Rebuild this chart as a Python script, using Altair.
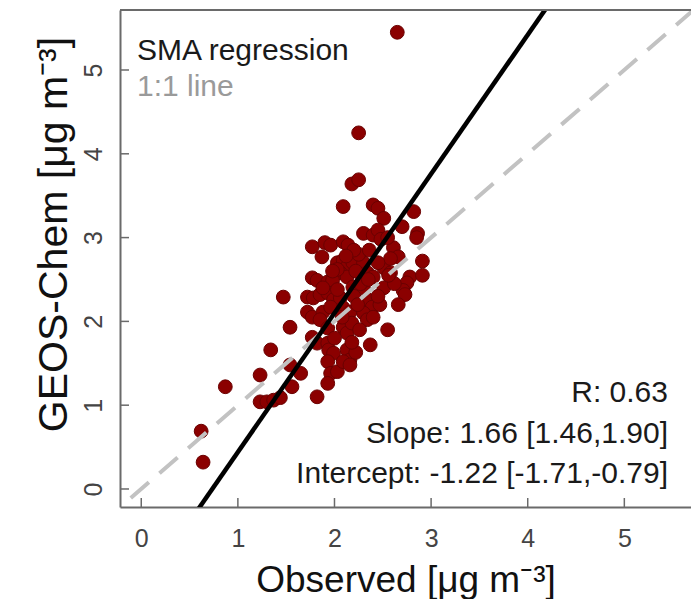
import altair as alt
import pandas as pd

# ---- data ----
observed = [2.65, 2.25, 2.18, 2.25, 2.09, 2.40, 2.45, 2.51, 2.82, 2.70, 2.86, 2.85,
            2.30, 2.40, 2.45, 1.77, 1.90, 1.96, 2.09, 2.14, 1.87, 2.61, 2.66, 2.91,
            2.03, 2.09, 2.13, 2.19, 2.30, 2.06, 2.13, 2.34, 2.40, 2.51, 2.58, 2.78,
            2.91, 1.77, 1.82, 1.93, 1.98, 2.75, 2.71, 2.73, 1.47, 1.72, 1.78, 1.85,
            1.93, 1.99, 2.06, 2.19, 2.29, 2.30, 2.51, 2.66, 1.72, 1.77, 1.88, 1.96,
            2.09, 2.16, 2.34, 2.39, 2.47, 1.54, 1.85, 1.93, 2.09, 2.13, 2.18, 2.30,
            2.34, 2.40, 2.55, 1.34, 1.77, 1.82, 1.93, 1.94, 1.99, 2.13, 2.16, 2.22,
            2.37, 1.23, 0.87, 1.54, 1.65, 1.93, 1.96, 2.03, 2.09, 2.16, 1.93, 1.82,
            1.56, 1.23, 1.30, 1.37, 1.44, 0.64, 0.62,
            2.03, 2.22, 2.25, 2.20, 2.27, 2.03, 2.20, 2.24, 1.98, 2.36, 2.48, 2.55,
            2.58, 2.45, 2.62, 2.08, 2.26, 2.00, 2.45, 1.88, 2.18, 2.35, 2.12, 2.56]
geos_chem = [5.45, 4.25, 3.64, 3.69, 3.37, 3.39, 3.35, 3.23, 3.31, 3.13, 3.05, 3.00,
             3.05, 3.03, 3.09, 2.89, 2.94, 2.91, 2.95, 2.91, 2.77, 2.88, 2.77, 2.72,
             2.70, 2.73, 2.65, 2.70, 2.70, 2.58, 2.53, 2.58, 2.53, 2.64, 2.58, 2.53,
             2.55, 2.52, 2.49, 2.47, 2.49, 2.46, 2.37, 2.32, 2.29, 2.29, 2.28, 2.32,
             2.34, 2.26, 2.28, 2.41, 2.49, 2.40, 2.40, 2.20, 2.11, 2.05, 2.11, 2.17,
             2.16, 2.11, 2.26, 2.17, 2.20, 1.93, 2.02, 1.92, 1.93, 1.86, 1.98, 2.10,
             2.02, 2.05, 1.90, 1.66, 1.81, 1.74, 1.74, 1.66, 1.62, 1.66, 1.54, 1.63,
             1.72, 1.36, 1.22, 1.48, 1.38, 1.52, 1.38, 1.40, 1.52, 1.48, 1.26, 1.10,
             1.22, 1.04, 1.04, 1.06, 1.09, 0.32, 0.69,
             2.62, 2.60, 2.80, 2.85, 2.45, 2.38, 2.30, 2.20, 2.60, 2.85, 2.98, 3.00,
             2.75, 2.70, 2.45, 2.05, 1.90, 1.80, 2.30, 2.40, 1.75, 2.50, 2.78, 2.55]
tick_values = [0, 1, 2, 3, 4, 5]
sma_slope = 1.66
sma_intercept = -1.22
legend_labels = ["SMA regression", "1:1 line"]
stats_labels = ["R: 0.63", "Slope: 1.66 [1.46,1.90]", "Intercept: -1.22 [-1.71,-0.79]"]
x_title = "Observed [μg m⁻³]"
y_title = "GEOS-Chem [μg m⁻³]"

# ---- layout ----
W, H = 571, 497
XDOM = [-0.22, 5.69]
YDOM = [-0.215, 5.716]
FONT = "Liberation Sans, Arial, sans-serif"

xs = alt.Scale(domain=XDOM, nice=False, zero=False)
ys = alt.Scale(domain=YDOM, nice=False, zero=False)

pts = pd.DataFrame({"obs": observed, "gc": geos_chem})

line_x = [-1.0, 7.0]
one_df = pd.DataFrame({"obs": line_x, "gc": line_x})
sma_df = pd.DataFrame({"obs": line_x, "gc": [sma_slope * v + sma_intercept for v in line_x]})
ticks_df = pd.DataFrame({"obs": tick_values, "gc": tick_values})

x_axis = alt.Axis(
    values=tick_values, format="d", title=x_title, grid=False,
    ticks=False, tickSize=0, domainColor="#6a6a6a", domainWidth=2,
    labelFont=FONT, labelFontSize=25, labelColor="#444444", labelPadding=31,
    labelBaseline="middle", labelFlush=False, labelOverlap=False,
    titleFont=FONT, titleFontSize=37, titleFontWeight="normal", titleColor="#111111",
    titleY=84, titleBaseline="alphabetic",
)
y_axis = alt.Axis(
    values=tick_values, format="d", title=y_title, grid=False,
    ticks=False, tickSize=0, domainColor="#6a6a6a", domainWidth=2,
    labelFont=FONT, labelFontSize=25, labelColor="#444444", labelPadding=27,
    labelAngle=-90, labelAlign="center", labelBaseline="middle",
    labelFlush=False, labelOverlap=False,
    titleFont=FONT, titleFontSize=41, titleFontWeight="normal", titleColor="#111111",
    titleAngle=270, titleX=-54, titleY=224, titleBaseline="alphabetic", titleAlign="center",
)

X = alt.X("obs:Q", scale=xs, axis=x_axis)
Y = alt.Y("gc:Q", scale=ys, axis=y_axis)

points = alt.Chart(pts).mark_circle(
    size=190, color="#8B0000", opacity=1, stroke="#6a0000", strokeWidth=1
).encode(x=X, y=Y)

one_line = alt.Chart(one_df).mark_line(
    clip=True, color="#c2c2c2", strokeWidth=4, strokeDash=[24, 14]
).encode(x=X, y=Y)

sma_line = alt.Chart(sma_df).mark_line(
    clip=True, color="#000000", strokeWidth=4.5
).encode(x=X, y=Y)

x_ticks = alt.Chart(ticks_df).mark_rule(color="#6a6a6a", strokeWidth=1.5).encode(
    x=X,
    y=alt.value(H),
    y2=alt.value(H - 9),
)
y_ticks = alt.Chart(ticks_df).mark_rule(color="#6a6a6a", strokeWidth=1.5).encode(
    y=Y,
    x=alt.value(0),
    x2=alt.value(9),
)
top_frame = alt.Chart(ticks_df.head(1)).mark_rule(color="#6a6a6a", strokeWidth=2).encode(
    x=alt.value(0), x2=alt.value(W), y=alt.value(0)
)


def label(text, x, y, align, color):
    return alt.Chart(pd.DataFrame({"t": [text]})).mark_text(
        font=FONT, fontSize=30, align=align, baseline="alphabetic", color=color
    ).encode(x=alt.value(x), y=alt.value(y), text="t:N")


texts = [
    label(legend_labels[0], 17, 49.5, "left", "#1a1a1a"),
    label(legend_labels[1], 17, 86, "left", "#9a9a9a"),
    label(stats_labels[0], 548, 392, "right", "#1a1a1a"),
    label(stats_labels[1], 548, 433, "right", "#1a1a1a"),
    label(stats_labels[2], 548, 473, "right", "#1a1a1a"),
]

chart = alt.layer(
    points, one_line, sma_line, x_ticks, y_ticks, top_frame, *texts
).properties(
    width=W, height=H,
    autosize=alt.AutoSizeParams(type="none"),
    padding={"left": 120, "top": 10, "right": 0, "bottom": 92},
    background="white",
).configure_view(stroke=None)

chart.save("out.html", embed_options={"renderer": "svg", "actions": False})
